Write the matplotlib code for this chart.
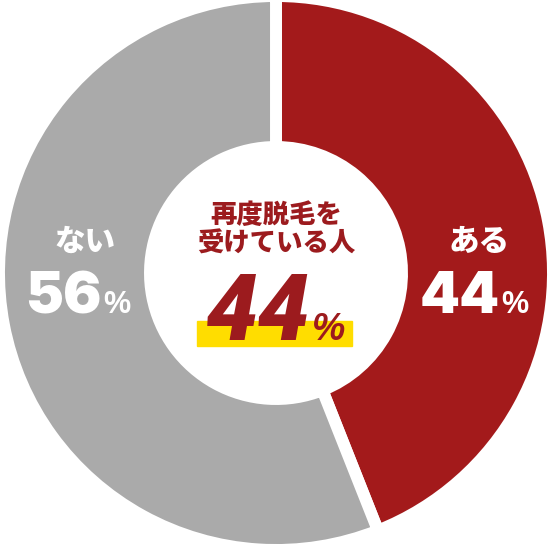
import matplotlib.pyplot as plt
from matplotlib.patches import Rectangle

# Data
labels = ['ある', 'ない']
values = [44, 56]
colors = ['#A31A1B', '#AAAAAA']
title_lines = ['再度脱毛を', '受けている人']

jp = ['Noto Sans CJK JP', 'DejaVu Sans']
num = ['Inter', 'Liberation Sans', 'DejaVu Sans']
num_it = ['Roboto', 'Liberation Sans', 'DejaVu Sans']
pct = ['Liberation Sans', 'DejaVu Sans']

W, H = 552, 547
fig = plt.figure(figsize=(W / 100, H / 100), dpi=100)
ax = fig.add_axes([0, 0, 1, 1])

# Donut (white edges make the gaps between slices)
cx, cy = 276, H - 273
ax.pie(values, colors=colors, startangle=90, counterclock=False,
       center=(cx, cy), radius=277,
       wedgeprops=dict(width=151, edgecolor='white', linewidth=8.6))

ax.set_xlim(0, W)
ax.set_ylim(0, H)
ax.set_aspect('equal')
ax.axis('off')

def py(y):
    return H - y

# Center text
red_txt = '#9C1B1E'
ax.text(276, py(215), title_lines[0], family=jp, fontsize=19, fontweight='black',
        color=red_txt, ha='center', va='center')
ax.text(276, py(243), title_lines[1], family=jp, fontsize=19, fontweight='black',
        color=red_txt, ha='center', va='center')
ax.add_patch(Rectangle((197, py(346)), 155, 25, color='#FFDD00', zorder=3))
ax.text(310, py(340), f'{values[0]}', family=num_it, fontsize=67, fontweight='black',
        fontstyle='italic', color=red_txt, ha='right', va='baseline', zorder=4)
ax.text(312, py(340), '%', family=pct, fontsize=27, fontweight='bold',
        fontstyle='italic', color=red_txt, ha='left', va='baseline', zorder=4)

# Slice labels
ax.text(479, py(241), labels[0], family=jp, fontsize=22, fontweight='black',
        color='white', ha='center', va='center')
ax.text(500, py(313), f'{values[0]}', family=num, fontsize=41, fontweight='black',
        color='white', ha='right', va='baseline')
ax.text(501, py(313), '%', family=pct, fontsize=22, fontweight='bold',
        color='white', ha='left', va='baseline')

ax.text(85, py(241), labels[1], family=jp, fontsize=22, fontweight='black',
        color='white', ha='center', va='center')
ax.text(102, py(313), f'{values[1]}', family=num, fontsize=41, fontweight='black',
        color='white', ha='right', va='baseline')
ax.text(103, py(313), '%', family=pct, fontsize=22, fontweight='bold',
        color='white', ha='left', va='baseline')

fig.savefig('out.png', dpi=100, facecolor='white')
